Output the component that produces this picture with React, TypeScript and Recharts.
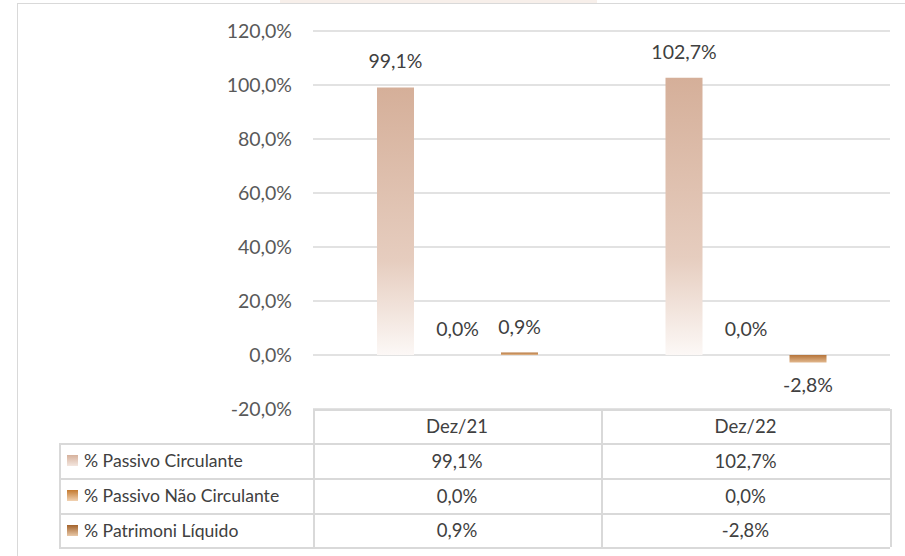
import React from 'react';
import { BarChart, XAxis, YAxis, CartesianGrid, Bar } from 'recharts';

const CATEGORIES = ['Dez/21', 'Dez/22'];
const PASSIVO_CIRCULANTE = [99.1, 102.7];
const PASSIVO_NAO_CIRCULANTE = [0.0, 0.0];
const PATRIMONIO_LIQUIDO = [0.9, -2.8];
const Y_TICKS = [-20, 0, 20, 40, 60, 80, 100, 120];

const SERIES = [
  { key: 'pc', name: '% Passivo Circulante', values: PASSIVO_CIRCULANTE, grad: 'gradPC' },
  { key: 'pnc', name: '% Passivo Não Circulante', values: PASSIVO_NAO_CIRCULANTE, grad: 'gradPNC' },
  { key: 'pl', name: '% Patrimoni Líquido', values: PATRIMONIO_LIQUIDO, grad: 'gradPL' },
];

const data = CATEGORIES.map((name, i) => ({
  name,
  pc: PASSIVO_CIRCULANTE[i],
  pnc: PASSIVO_NAO_CIRCULANTE[i],
  pl: PATRIMONIO_LIQUIDO[i],
}));

const fmt = (v: number) => `${v.toFixed(1).replace('.', ',')}%`;

const FONT = 'Lato, "Noto Sans", sans-serif';
const LINE = '#D9D9D9';
const TEXT = '#404040';
const NUM_SIZE = 19.5;

// legend key gradients (Excel-style, fades to white)
const KEY_BG: Record<string, string> = {
  gradPC: 'linear-gradient(#D6B19C, #F3E6DF)',
  gradPNC: 'linear-gradient(#C47A30, #F1D2B2)',
  gradPL: 'linear-gradient(#A3622A, #E8C8A8)',
};

// table geometry
const COL_X = [59, 313, 601, 890];
const ROW_Y = [409, 443, 478, 513, 547];

// data label: above for positive values, below for negative ones
const ValueLabel = (props: any) => {
  const { x, y, width, height, value } = props;
  if (value === undefined || value === null) return null;
  const v = Number(value);
  const cx = Number(x) + Number(width) / 2;
  const top = Math.min(Number(y), Number(y) + Number(height));
  const bottom = Math.max(Number(y), Number(y) + Number(height));
  const ty = v >= 0 ? top - 19 : bottom + 29;
  return (
    <text x={cx} y={ty} textAnchor="middle" fill={TEXT} fontSize={NUM_SIZE} fontFamily={FONT}>
      {fmt(v)}
    </text>
  );
};

const App: React.FC = () => {
  const hLines = ROW_Y.map((y, i) => (
    <div
      key={`h-${i}`}
      style={{
        position: 'absolute',
        left: i === 0 ? COL_X[1] : COL_X[0],
        top: y,
        width: COL_X[3] - (i === 0 ? COL_X[1] : COL_X[0]),
        height: 1.5,
        background: LINE,
      }}
    />
  ));
  const vLines = COL_X.map((x, i) => (
    <div
      key={`v-${i}`}
      style={{
        position: 'absolute',
        left: x,
        top: i === 0 ? ROW_Y[1] : ROW_Y[0],
        width: 1.5,
        height: ROW_Y[4] - (i === 0 ? ROW_Y[1] : ROW_Y[0]),
        background: LINE,
      }}
    />
  ));

  const cell = (text: string, col: number, row: number) => (
    <div
      key={`c-${col}-${row}`}
      style={{
        position: 'absolute',
        left: COL_X[col],
        top: ROW_Y[row],
        width: COL_X[col + 1] - COL_X[col],
        height: ROW_Y[row + 1] - ROW_Y[row],
        display: 'flex',
        alignItems: 'center',
        justifyContent: 'center',
        fontSize: 18.5,
        color: TEXT,
      }}
    >
      {text}
    </div>
  );

  return (
    <div
      style={{
        position: 'absolute',
        left: 0,
        top: 0,
        width: 905,
        height: 556,
        overflow: 'hidden',
        background: '#fff',
        fontFamily: FONT,
      }}
    >
      <div style={{ position: 'absolute', left: 280, top: 0, width: 317, height: 3, background: '#F7EFEA' }} />
      <div
        style={{
          position: 'absolute',
          left: 17,
          top: 3,
          width: 1000,
          height: 700,
          border: `1.5px solid ${LINE}`,
        }}
      />
      <div style={{ position: 'absolute', left: 0, top: 0 }}>
        <BarChart
          width={905}
          height={556}
          data={data}
          margin={{ top: 31, right: 15, bottom: 147, left: 0 }}
          barSize={37}
          barGap={25}
        >
          <defs>
            <linearGradient id="gradPC" x1="0" y1="0" x2="0" y2="1">
              <stop offset="0%" stopColor="#D5AF99" />
              <stop offset="65%" stopColor="#E6CDBF" />
              <stop offset="100%" stopColor="#FCF8F6" />
            </linearGradient>
            <linearGradient id="gradPNC" x1="0" y1="0" x2="0" y2="1">
              <stop offset="0%" stopColor="#C47A30" />
              <stop offset="100%" stopColor="#F1D2B2" />
            </linearGradient>
            <linearGradient id="gradPL" x1="0" y1="0" x2="0" y2="1">
              <stop offset="0%" stopColor="#B5743A" />
              <stop offset="100%" stopColor="#E2B88E" />
            </linearGradient>
          </defs>
          <CartesianGrid vertical={false} stroke={LINE} strokeWidth={1.5} />
          <XAxis dataKey="name" hide />
          <YAxis
            width={313}
            domain={[-20, 120]}
            ticks={Y_TICKS}
            axisLine={false}
            tickLine={false}
            tickMargin={15}
            tick={{ fill: '#595959', fontSize: NUM_SIZE, fontFamily: FONT }}
            tickFormatter={fmt}
          />
          {SERIES.map((s) => (
            <Bar
              key={s.key}
              dataKey={s.key}
              name={s.name}
              fill={`url(#${s.grad})`}
              isAnimationActive={false}
              minPointSize={0.01}
              label={<ValueLabel />}
            />
          ))}
        </BarChart>
      </div>

      {hLines}
      {vLines}
      {CATEGORIES.map((c, i) => cell(c, i + 1, 0))}
      {SERIES.map((s, r) => (
        <React.Fragment key={s.key}>
          <div
            style={{
              position: 'absolute',
              left: COL_X[0],
              top: ROW_Y[r + 1],
              height: ROW_Y[r + 2] - ROW_Y[r + 1],
              display: 'flex',
              alignItems: 'center',
              fontSize: 17.6,
              color: TEXT,
              whiteSpace: 'nowrap',
            }}
          >
            <span
              style={{
                display: 'inline-block',
                width: 11,
                height: 11,
                marginLeft: 8,
                marginRight: 6,
                background: KEY_BG[s.grad],
              }}
            />
            {s.name}
          </div>
          {s.values.map((v, i) => cell(fmt(v), i + 1, r + 1))}
        </React.Fragment>
      ))}
    </div>
  );
};

export default App;
